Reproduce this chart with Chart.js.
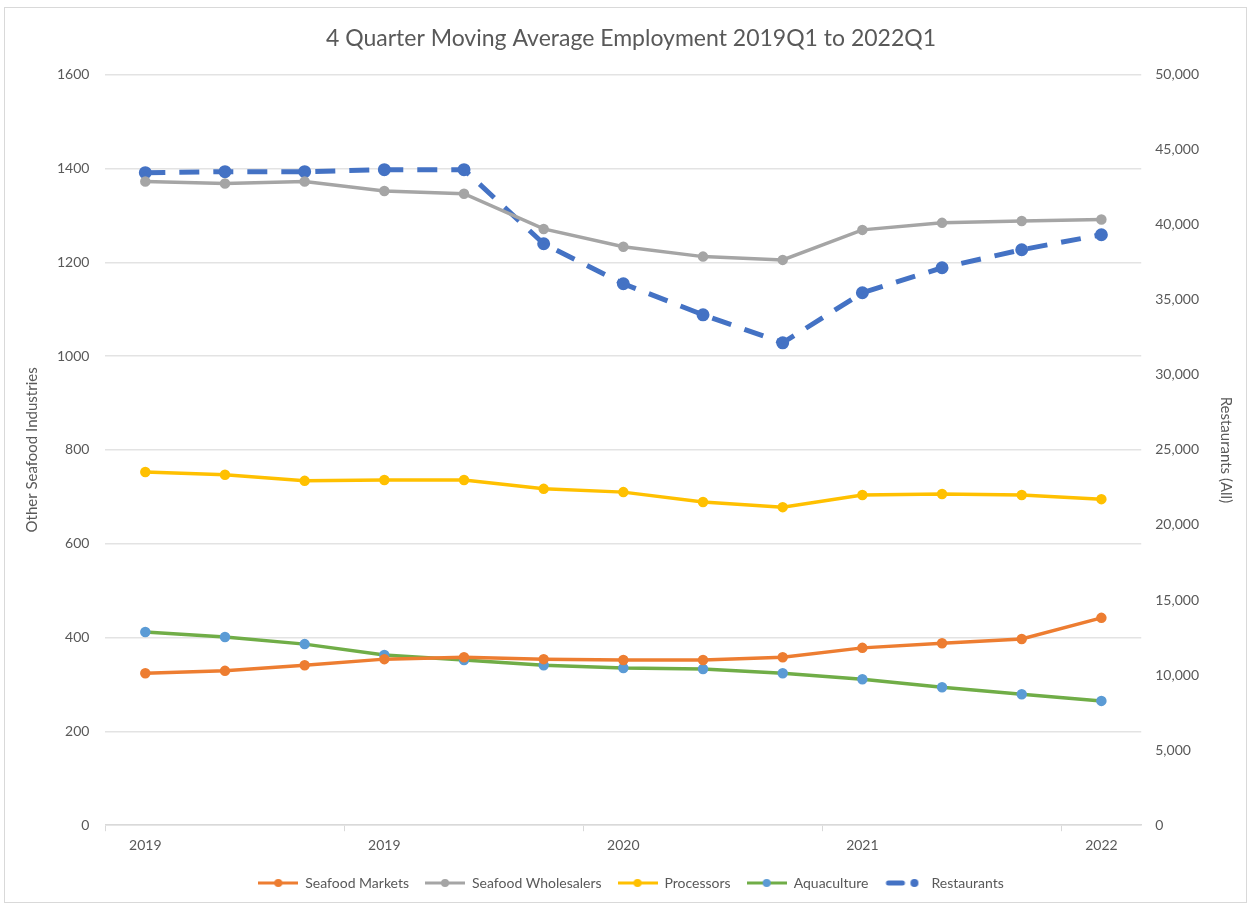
<!DOCTYPE html>
<html>
<head>
<meta charset="utf-8">
<script src="https://cdn.jsdelivr.net/npm/chart.js@4/dist/chart.umd.min.js"></script>
<style>
  body { margin: 0; background: #fff; }
  #wrap { position: absolute; left: 4px; top: 7px; width: 1243px; height: 896px; border: 1px solid #d9d9d9; box-sizing: border-box; }
  #myChart { display: block; }
</style>
</head>
<body>
<div id="wrap"><canvas id="myChart" width="1241" height="894"></canvas></div>
<script>
var quarters = ['2019Q1','2019Q2','2019Q3','2019Q4','2020Q1','2020Q2','2020Q3','2020Q4','2021Q1','2021Q2','2021Q3','2021Q4','2022Q1'];
var seafoodMarkets = [324, 329, 341, 354, 358, 354, 352, 352, 358, 378, 388, 397, 442];
var seafoodWholesalers = [1372, 1368, 1372, 1352, 1346, 1271, 1233, 1212, 1205, 1269, 1284, 1288, 1291];
var processors = [753, 747, 734, 736, 736, 717, 710, 689, 678, 704, 706, 704, 695];
var aquaculture = [412, 401, 386, 363, 352, 341, 335, 333, 324, 311, 294, 279, 265];
var restaurants = [43467, 43533, 43533, 43667, 43667, 38733, 36067, 34000, 32133, 35467, 37133, 38333, 39333];

var txt = '#595959';
var font = 'Lato, "Open Sans", sans-serif';

function legendIcon(lineColor, dotColor, dashed) {
  var c = document.createElement('canvas');
  c.width = 40; c.height = 12;
  var g = c.getContext('2d');
  g.strokeStyle = lineColor;
  g.lineCap = dashed ? 'round' : 'butt';
  if (dashed) {
    g.lineWidth = 5;
    g.beginPath(); g.moveTo(4, 6); g.lineTo(18, 6); g.stroke();
    g.fillStyle = dotColor;
    g.beginPath(); g.arc(30, 6, 4, 0, Math.PI * 2); g.fill();
  } else {
    g.lineWidth = 3;
    g.beginPath(); g.moveTo(0, 6); g.lineTo(40, 6); g.stroke();
    g.fillStyle = dotColor;
    g.beginPath(); g.arc(20, 6, 4, 0, Math.PI * 2); g.fill();
  }
  return c;
}

var icons = [
  legendIcon('#ED7D31', '#ED7D31', false),
  legendIcon('#A5A5A5', '#A5A5A5', false),
  legendIcon('#FFC000', '#FFC000', false),
  legendIcon('#70AD47', '#5B9BD5', false),
  legendIcon('#4472C4', '#4472C4', true)
];

var ctx = document.getElementById('myChart').getContext('2d');
var myChart = new Chart(ctx, {
    type: 'line',
    data: {
        labels: quarters,
        datasets: [{
          label: 'Seafood Markets',
          data: seafoodMarkets,
          borderColor: '#ED7D31',
          backgroundColor: '#ED7D31',
          borderWidth: 3.5,
          pointRadius: 3.5,
          yAxisID: 'y'
        }, {
          label: 'Seafood Wholesalers',
          data: seafoodWholesalers,
          borderColor: '#A5A5A5',
          backgroundColor: '#A5A5A5',
          borderWidth: 3.5,
          pointRadius: 3.5,
          yAxisID: 'y'
        }, {
          label: 'Processors',
          data: processors,
          borderColor: '#FFC000',
          backgroundColor: '#FFC000',
          borderWidth: 3.5,
          pointRadius: 3.5,
          yAxisID: 'y'
        }, {
          label: 'Aquaculture',
          data: aquaculture,
          borderColor: '#70AD47',
          backgroundColor: '#5B9BD5',
          pointBorderColor: '#5B9BD5',
          borderWidth: 3.5,
          pointRadius: 3.5,
          yAxisID: 'y'
        }, {
          label: 'Restaurants',
          data: restaurants,
          borderColor: '#4472C4',
          backgroundColor: '#4472C4',
          borderWidth: 5,
          borderDash: [20, 14],
          pointRadius: 4,
          yAxisID: 'y1'
        }]
    },
    options: {
        responsive: false,
        animation: false,
        layout: { padding: { top: 8, left: 18, right: 7, bottom: 2 } },
        plugins: {
          title: {
            display: true,
            text: '4 Quarter Moving Average Employment 2019Q1 to 2022Q1',
            color: txt,
            font: { family: font, size: 23, weight: 'normal' },
            padding: { top: 9, bottom: 22 }
          },
          legend: {
            position: 'bottom',
            labels: {
              usePointStyle: true,
              pointStyleWidth: 40,
              color: txt,
              font: { family: font, size: 14 },
              padding: 16,
              generateLabels: function(chart) {
                return chart.data.datasets.map(function(ds, i) {
                  return { text: ds.label, pointStyle: icons[i], fontColor: txt, datasetIndex: i, lineWidth: 0, strokeStyle: 'transparent', fillStyle: 'transparent' };
                });
              }
            }
          },
          tooltip: { enabled: false }
        },
        scales: {
          x: {
            offset: true,
            grid: {
              offset: true,
              drawOnChartArea: false,
              tickLength: 6,
              color: function(c) { return c.index % 3 === 0 ? '#d9d9d9' : 'rgba(0,0,0,0)'; }
            },
            border: { color: '#d9d9d9', width: 1.5 },
            ticks: {
              autoSkip: false,
              maxRotation: 0,
              color: txt,
              font: { family: font, size: 14 },
              padding: 6,
              callback: function(v, i) { return i % 3 === 0 ? quarters[i].slice(0, 4) : ''; }
            }
          },
          y: {
            position: 'left',
            min: 0, max: 1600,
            ticks: {
              stepSize: 200, color: txt, font: { family: font, size: 14 }, padding: 16,
              callback: function(v) { return String(v); }
            },
            grid: { color: '#e3e3e3', lineWidth: 1.5, drawTicks: false },
            border: { display: false },
            title: { display: true, text: 'Other Seafood Industries', color: txt, font: { family: font, size: 15 }, padding: { top: 0, bottom: 0 } }
          },
          y1: {
            position: 'right',
            min: 0, max: 50000,
            ticks: {
              stepSize: 5000, color: txt, font: { family: font, size: 14 }, padding: 14,
              callback: function(v) { return v.toLocaleString('en-US'); }
            },
            grid: { drawOnChartArea: false, drawTicks: false },
            border: { display: false },
            title: { display: true, text: 'Restaurants (All)', color: txt, font: { family: font, size: 15 }, padding: { top: 4 } }
          }
        }
    }
});
</script>
</body>
</html>
